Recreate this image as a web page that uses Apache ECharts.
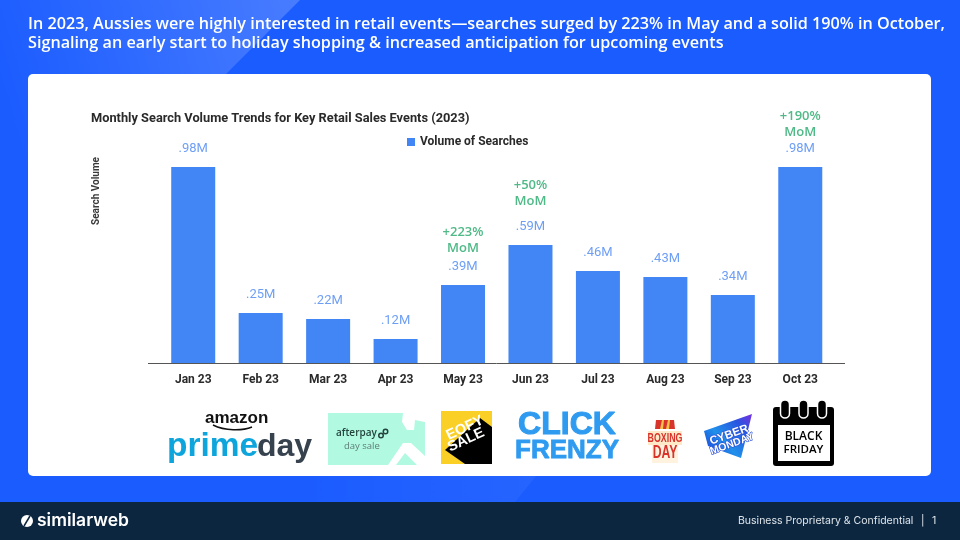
<!DOCTYPE html>
<html><head><meta charset="utf-8">
<style>html,body{margin:0;padding:0;background:#1b5cff}#c{width:960px;height:540px}</style>
<script src="https://cdn.jsdelivr.net/npm/echarts@6/dist/echarts.min.js"></script>
</head><body><div id="c"></div>
<script>
const categories = ['Jan 23','Feb 23','Mar 23','Apr 23','May 23','Jun 23','Jul 23','Aug 23','Sep 23','Oct 23'];
const searchVolume = [0.98,0.25,0.22,0.12,0.39,0.59,0.46,0.43,0.34,0.98];
const valueLabels = ['.98M','.25M','.22M','.12M','.39M','.59M','.46M','.43M','.34M','.98M'];
const momLabels = ['','','','','+223%','+50%','','','','+190%'];
const headline = [
 'In 2023, Aussies were highly interested in retail events\u2014searches surged by 223% in May and a solid 190% in October,',
 'Signaling an early start to holiday shopping & increased anticipation for upcoming events'
];
const chartTitle = 'Monthly Search Volume Trends for Key Retail Sales Events (2023)';
const seriesName = 'Volume of Searches';
const BLUE = '#4285f4';

const txt = (x,y,text,font,fill,extra) => Object.assign({type:'text',x,y,z:5,style:{text,font,fill,textVerticalAlign:'middle'}},extra||{});
const ctr = (x,y,text,font,fill,extra) => Object.assign({type:'text',x,y,z:7,style:Object.assign({text,font,fill,textAlign:'center',textVerticalAlign:'middle'},(extra&&extra.style)||{})},extra?{scaleX:extra.scaleX||1,scaleY:extra.scaleY||1}:{});
const rotText = (x,y,deg,text,font,fill,stroke) => ({type:'text',x,y,rotation:deg*Math.PI/180,z:7,style:{text,font,fill,textAlign:'center',textVerticalAlign:'middle',stroke:stroke||null,lineWidth:stroke?1.2:0}});
const poly = (points,fill,z) => ({type:'polygon',z:z||5,shape:{points},style:{fill}});

const graphics = [
 {type:'rect',z:-10,shape:{x:0,y:0,width:960,height:540},style:{fill:'#1b5cff'}},
 {type:'polygon',z:-9,shape:{points:[[0,0],[300,0],[0,300]]},style:{fill:new echarts.graphic.LinearGradient(0,0.3,1,0,[{offset:0,color:'rgba(255,255,255,0)'},{offset:1,color:'rgba(255,255,255,0.2)'}])}},
 {type:'polygon',z:-9,shape:{points:[[300,470],[541,470],[515,502],[300,502]]},style:{fill:new echarts.graphic.LinearGradient(0,0,1,0,[{offset:0,color:'rgba(255,255,255,0)'},{offset:1,color:'rgba(255,255,255,0.05)'}])}},
 {type:'rect',z:-8,shape:{x:28,y:74,width:903,height:402,r:5},style:{fill:'#fff'}},
 {type:'rect',z:-8,shape:{x:0,y:502,width:960,height:38},style:{fill:'#0c2640'}},
 txt(28,24,headline[0],'600 16.2px "Open Sans"','#fff'),
 txt(28,43,headline[1],'600 16.2px "Open Sans"','#fff'),
 txt(91,119,chartTitle,'700 12.8px Roboto','#2a2a2a'),
 rotText(96,191,90,'Search Volume','700 10px Roboto','#3a3a3a'),
 {type:'line',z:5,shape:{x1:148,y1:363.5,x2:845,y2:363.5},style:{stroke:'#555',lineWidth:1}},

 // prime day
 txt(205,418,'amazon','700 17px "Liberation Sans"','#111'),
 {type:'bezierCurve',z:5,shape:{x1:213,y1:425,x2:252,y2:427,cpx1:225,cpy1:431,cpx2:242,cpy2:431},style:{stroke:'#111',lineWidth:1.5,fill:'none'}},
 txt(167,447,'prime','700 33.5px "Liberation Sans"','#0ea5dc'),
 txt(257,447,'day','700 32px "Liberation Sans"','#37424f'),

 // afterpay
 {type:'rect',z:5,shape:{x:328,y:413,width:97,height:52},style:{fill:'#b2f9e2'}},
 poly([[403,413],[425,413],[425,422],[415,420],[414,430],[407,430],[402,422]],'#fff',6),
 poly([[388,465],[403,443],[411,443],[425,456],[425,465],[417,465],[405,453],[396,465]],'#fff',6),
 txt(336,433,'afterpay','600 10px "Open Sans"','#24433c',{z:7}),
 {type:'ring',z:7,shape:{cx:381,cy:435.5,r:3,r0:1.5},style:{fill:'#24433c'}},
 {type:'ring',z:7,shape:{cx:385.5,cy:431.5,r:3,r0:1.5},style:{fill:'#24433c'}},
 txt(344,446,'day sale','400 9.5px "Open Sans"','#5e7d75',{z:7}),

 // eofy
 {type:'rect',z:5,shape:{x:441,y:411,width:51,height:53},style:{fill:'#fbd026'}},
 poly([[480,418],[492,427],[492,464],[465,464],[445,450]],'#000',6),
 rotText(465,428,25,'EOFY','800 14.5px "Liberation Sans"','#fff'),
 rotText(466,440,25,'SALE','800 14.5px "Liberation Sans"','#fff'),

 // click frenzy
 ctr(567,425,'CLICK','700 32px "Liberation Sans"','#2f9bf0',{style:{stroke:'#2f9bf0',lineWidth:1}}),
 ctr(567,451,'FRENZY','700 26px "Liberation Sans"','#2f9bf0',{style:{stroke:'#2f9bf0',lineWidth:0.8}}),

 // boxing day
 poly([[655,429],[656,420],[674,420],[675,429]],'#d8342c'),
 poly([[660,429],[662,420],[664,420],[663,429]],'#f4c24a',6),
 poly([[666,429],[668,420],[670,420],[669,429]],'#f4c24a',6),
 {type:'rect',z:5,shape:{x:648,y:431,width:34,height:14},style:{fill:'#fde9c8'}},
 {type:'rect',z:5,shape:{x:652,y:445,width:26,height:18},style:{fill:'#fff3e0'}},
 {type:'group',x:665,y:438,scaleX:0.68,z:7,children:[{type:'text',z:7,style:{text:'BOXING',font:'700 13px "Liberation Sans"',fill:'#d8342c',textAlign:'center',textVerticalAlign:'middle'}}]},
 {type:'group',x:665,y:453,scaleX:0.68,z:7,children:[{type:'text',z:7,style:{text:'DAY',font:'700 18px "Liberation Sans"',fill:'#d8342c',textAlign:'center',textVerticalAlign:'middle'}}]},

 // cyber monday
 poly([[704,431],[752,414],[741,458],[708,446]],new echarts.graphic.LinearGradient(0,1,1,0,[{offset:0,color:'#1a2fd8'},{offset:0.4,color:'#2090ea'},{offset:0.75,color:'#2a55e0'},{offset:1,color:'#7a2fe0'}])),
 rotText(729,435,20,'CYBER','800 11.5px "Liberation Sans"','#fff','#2a4fd8'),
 rotText(732,444,20,'MONDAY','800 10.5px "Liberation Sans"','#fff','#2a4fd8'),

 // black friday
 {type:'rect',z:5,shape:{x:773,y:407,width:61,height:59,r:3},style:{fill:'#000'}},
 {type:'rect',z:6,shape:{x:778,y:425,width:52,height:36},style:{fill:'#fff'}},
 ...[785,803.5,822].map(x=>({type:'rect',z:6,shape:{x:x-4.5,y:400,width:9,height:18,r:4.5},style:{fill:'#000',stroke:'#fff',lineWidth:1.5}})),
 ctr(803.5,437,'BLACK','600 12px "Open Sans"','#000'),
 ctr(803.5,450,'FRIDAY','600 11.5px "Open Sans"','#000'),

 // footer
 {type:'circle',z:5,shape:{cx:27,cy:521,r:6},style:{fill:'#fff'}},
 {type:'line',z:6,shape:{x1:24,y1:526,x2:30,y2:516},style:{stroke:'#0c2640',lineWidth:1.5}},
 txt(37,521,'similarweb','600 17.5px Inter','#fff'),
 txt(738,521,'Business Proprietary & Confidential','400 10.5px Inter','#dfe5ea'),
 txt(921,521,'|','400 10.5px Inter','#dfe5ea'),
 txt(932,521,'1','400 10.5px Inter','#dfe5ea')
];

const chart = echarts.init(document.getElementById('c'),null,{renderer:'canvas'});
chart.setOption({
 animation:false,
 textStyle:{fontFamily:'Roboto'},
 graphic:{elements:graphics},
 legend:{
  data:[seriesName],left:402,top:131,itemWidth:8,itemHeight:8,itemGap:5,icon:'rect',
  textStyle:{fontFamily:'Roboto',fontWeight:700,fontSize:12,color:'#2a2a2a'}
 },
 grid:{left:159.5,right:126,top:163,bottom:177,containLabel:false},
 xAxis:{
  type:'category',data:categories,
  axisLine:{show:false},axisTick:{show:false},
  axisLabel:{color:'#2a2a2a',fontFamily:'Roboto',fontWeight:700,fontSize:12,margin:11}
 },
 yAxis:{type:'value',min:0,max:1,show:false,splitLine:{show:false}},
 series:[{
  name:seriesName,type:'bar',data:searchVolume,barWidth:44,
  itemStyle:{color:BLUE},
  label:{
   show:true,position:'top',distance:7,
   formatter:p=>{
    const i=p.dataIndex, m=momLabels[i], c=categories[i];
    if(!m) return `{v|${valueLabels[i]}}`;
    if(c==='Jun 23') return `{g|${m}}\n{g|MoM}\n{sp7| }\n{v|${valueLabels[i]}}`;
    if(c==='Oct 23') return `{g|${m}}\n{g|MoM}\n{vn|${valueLabels[i]}}\n{sp2| }`;
    return `{g|${m}}\n{g|MoM}\n{v|${valueLabels[i]}}`;
   },
   rich:{
    g:{color:'#4fb987',fontFamily:'"Open Sans"',fontSize:13,lineHeight:16,fontWeight:600,align:'center'},
    v:{color:'#6f9ff5',fontFamily:'Roboto',fontSize:13,lineHeight:22,align:'center'},
    vn:{color:'#6f9ff5',fontFamily:'Roboto',fontSize:13,lineHeight:18,align:'center'},
    sp7:{fontSize:1,lineHeight:7},
    sp2:{fontSize:1,lineHeight:2}
   }
  }
 }]
});
</script></body></html>
